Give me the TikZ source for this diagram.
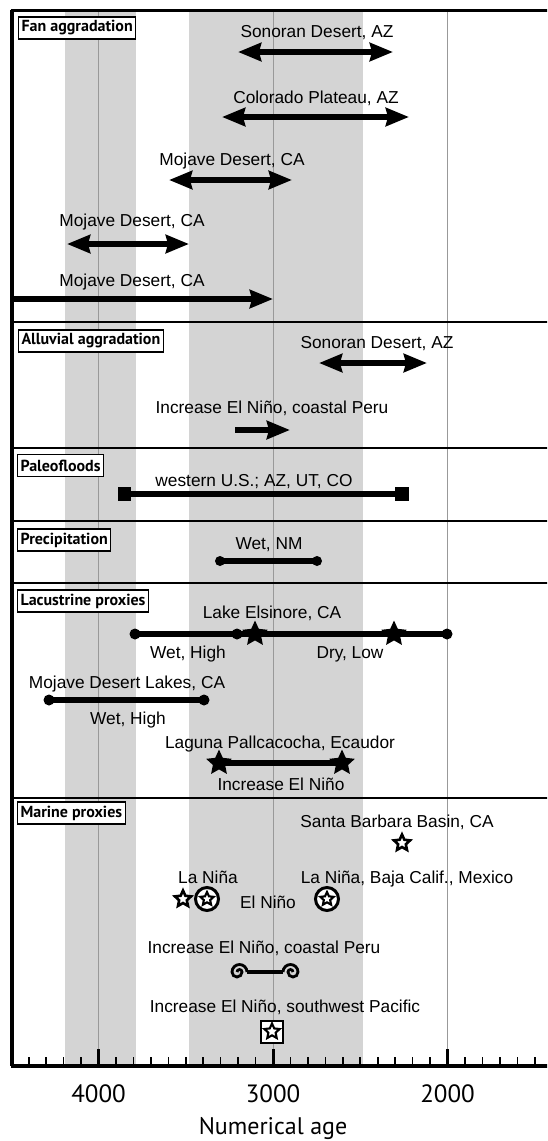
\documentclass[tikz,border=0pt]{standalone}
\usepackage{fontspec}
\setmainfont{Liberation Sans}
\newfontfamily\ptsans{PT Sans}
\usetikzlibrary{arrows.meta,shapes.geometric}
\begin{document}
\begin{tikzpicture}[x=1pt,y=-1pt,
  lbl/.style={font=\fontsize{17.3}{20}\selectfont, anchor=base, inner sep=0pt},
  sec/.style={draw, line width=1.1pt, font=\ptsans\bfseries\fontsize{16}{18}\selectfont, anchor=west, inner xsep=3pt, inner ysep=0pt, minimum height=22pt, fill=white},
  axl/.style={font=\ptsans\fontsize{25}{27}\selectfont, anchor=base, inner sep=0pt},
  dbl/.style={line width=5.5pt, {Stealth[length=23pt,width=18pt,inset=2pt]}-{Stealth[length=23pt,width=18pt,inset=2pt]}},
  sgl/.style={line width=5.5pt, -{Stealth[length=23pt,width=18pt,inset=2pt]}},
  barl/.style={line width=5.5pt},
  dot/.style={circle, fill=black, minimum size=11pt, inner sep=0pt},
  sqr/.style={rectangle, fill=black, minimum size=13.5pt, inner sep=0pt},
  fstar/.style={star, star points=5, star point ratio=2.1, fill=black, minimum size=27pt, inner sep=0pt},
  ostar/.style={star, star points=5, star point ratio=2.1, draw=black, fill=white, line width=2.6pt, minimum size=17pt, inner sep=0pt},
  istar/.style={star, star points=5, star point ratio=2.1, draw=black, fill=white, line width=2.1pt, minimum size=14pt, inner sep=0pt},
  cstar/.style={circle, draw=black, line width=3pt, fill=white, minimum size=23pt, inner sep=0pt},
  bstar/.style={rectangle, draw=black, line width=2pt, fill=white, minimum size=22pt, inner sep=0pt},
  gridl/.style={draw=black!40, line width=1pt},
  band/.style={fill=black!17},
  curl/.style={line width=2.8pt},
]
\useasboundingbox (0,0) rectangle (547,1141);
\begin{scope}
\clip (0,0) rectangle (547,1141);
% bands
\fill[band] (65,10) rectangle (136,1066);
\fill[band] (189,10) rectangle (363,1066);
% grid lines
\foreach \gx in {98.5,273,447.5} \draw[gridl] (\gx,10) -- (\gx,1066);
% dividers
\foreach \dy in {322,448,521,583,798} \draw[line width=2pt] (12,\dy) -- (560,\dy);
% frame
\draw[line width=3pt] (10.5,10) -- (560,10);
\draw[line width=3.2pt] (12,10) -- (12,1066);
\draw[line width=3.2pt] (10.5,1066) -- (560,1066);
% ticks
\foreach \i in {1,...,31} \draw[line width=1.6pt] ({11.25+\i*17.45},1066) -- ({11.25+\i*17.45},1057);
\foreach \i in {5,15,25} \draw[line width=3pt] ({11.25+\i*17.45},1066) -- ({11.25+\i*17.45},1049);
\end{scope}

% axis labels
\node[axl] (x4000) at (98.5,1102) {4000};
\node[axl] (x3000) at (273,1102) {3000};
\node[axl] (x2000) at (447.5,1102) {2000};
\node[axl, font=\ptsans\fontsize{24}{27}\selectfont] (xlab) at (273,1134) {Numerical age};

% section labels
\node[sec] (s1) at (18,28) {Fan aggradation};
\node[sec] (s2) at (18,341) {Alluvial aggradation};
\node[sec] (s3) at (17,465.5) {Paleofloods};
\node[sec] (s4) at (17,540) {Precipitation};
\node[sec] (s5) at (17,601) {Lacustrine proxies};
\node[sec] (s6) at (17,813) {Marine proxies};

% Fan aggradation
\node[lbl] (t1) at (317,37) {Sonoran Desert, AZ};
\coordinate (a1l) at (238,52); \coordinate (a1r) at (393,52);
\draw[dbl] (a1l) -- (a1r);
\node[lbl] (t2) at (316,103) {Colorado Plateau, AZ};
\coordinate (a2l) at (222,117); \coordinate (a2r) at (409,117);
\draw[dbl] (a2l) -- (a2r);
\node[lbl] (t3) at (232,165) {Mojave Desert, CA};
\coordinate (a3l) at (169,180); \coordinate (a3r) at (292,180);
\draw[dbl] (a3l) -- (a3r);
\node[lbl] (t4) at (132,226) {Mojave Desert, CA};
\coordinate (a4l) at (67,244); \coordinate (a4r) at (189,244);
\draw[dbl] (a4l) -- (a4r);
\node[lbl] (t5) at (132,286) {Mojave Desert, CA};
\coordinate (a5l) at (13,299); \coordinate (a5r) at (273,299);
\draw[sgl] (a5l) -- (a5r);

% Alluvial aggradation
\node[lbl] (t6) at (377,348) {Sonoran Desert, AZ};
\coordinate (a6l) at (319,363); \coordinate (a6r) at (427,363);
\draw[dbl] (a6l) -- (a6r);
\node[lbl] (t7) at (272,413) {Increase El Niño, coastal Peru};
\coordinate (a7l) at (235,430); \coordinate (a7r) at (290,430);
\draw[sgl] (a7l) -- (a7r);

% Paleofloods
\node[lbl] (t8) at (254,486) {western U.S.; AZ, UT, CO};
\node[sqr] (p1) at (124.5,494) {};
\node[sqr] (p2) at (402,494) {};
\draw[barl] (p1.center) -- (p2.center);

% Precipitation
\node[lbl] (t9) at (269,549) {Wet, NM};
\node[dot, minimum size=10pt] (w1) at (220,561) {};
\node[dot, minimum size=10pt] (w2) at (317,561) {};
\draw[barl] (w1.center) -- (w2.center);

% Lacustrine proxies
\node[lbl] (t10) at (272,618) {Lake Elsinore, CA};
\node[dot] (e1) at (135,634) {};
\node[dot] (e2) at (237,634) {};
\node[dot] (e3) at (447,634) {};
\draw[barl] (e1.center) -- (e3.center);
\node[fstar] (es1) at (255,634) {};
\node[fstar] (es2) at (394,634) {};
\node[lbl] (t11) at (188,658) {Wet, High};
\node[lbl] (t12) at (350,658) {Dry, Low};
\node[lbl] (t13) at (127,688) {Mojave Desert Lakes, CA};
\node[dot] (m1) at (49,700) {};
\node[dot] (m2) at (204,700) {};
\draw[barl] (m1.center) -- (m2.center);
\node[lbl] (t14) at (128,724) {Wet, High};
\node[lbl] (t15) at (280,748) {Laguna Pallcacocha, Ecaudor};
\draw[barl] (219,763) coordinate (lg1) -- (342,763) coordinate (lg2);
\node[fstar] (ls1) at (lg1) {};
\node[fstar] (ls2) at (lg2) {};
\node[lbl] (t16) at (281,790) {Increase El Niño};

% Marine proxies
\node[lbl] (t17) at (397,827) {Santa Barbara Basin, CA};
\node[ostar] (sb) at (402,843) {};
\node[lbl] (t18) at (208,883) {La Niña};
\node[ostar] (ln1) at (183,899) {};
\node[cstar] (ln2) at (207,899) {};
\node[istar] (ln2s) at (ln2) {};
\node[lbl] (t19) at (268,908) {El Niño};
\node[lbl] (t20) at (407,883) {La Niña, Baja Calif., Mexico};
\node[cstar] (lb) at (327,899) {};
\node[istar] (lbs) at (lb) {};
\node[lbl] (t21) at (264,953) {Increase El Niño, coastal Peru};
\coordinate (wl) at (247,972); \coordinate (wr) at (283,972);
\draw[line width=4.5pt] (wl) -- (wr);
\draw[curl] (wl) arc[start angle=0,end angle=-180,radius=7.5] arc[start angle=180,end angle=0,radius=5] arc[start angle=0,end angle=-180,radius=2.5];
\draw[curl] (wr) arc[start angle=180,end angle=360,radius=7.5] arc[start angle=0,end angle=180,radius=5] arc[start angle=180,end angle=360,radius=2.5];
\node[lbl] (t22) at (285,1012) {Increase El Niño, southwest Pacific};
\node[bstar] (bx) at (272,1031.5) {};
\node[istar, minimum size=16pt] (bxs) at (bx) {};
\end{tikzpicture}
\end{document}
